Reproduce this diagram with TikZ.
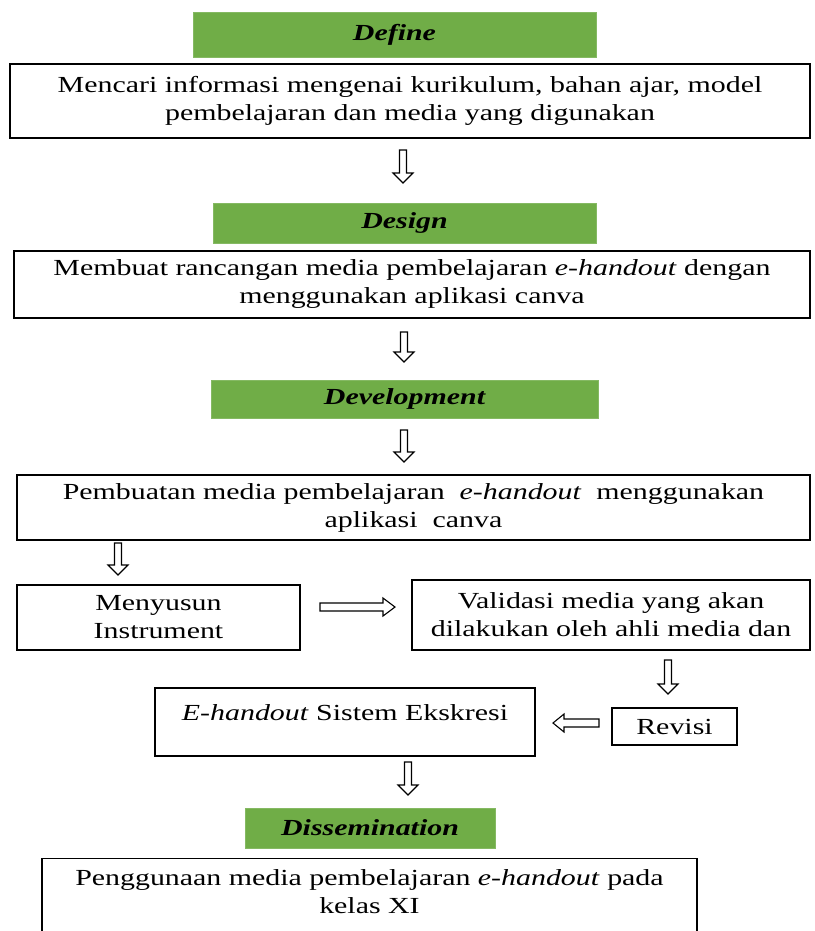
\documentclass[tikz,border=0pt]{standalone}
\usepackage{fontspec}
\setmainfont[FakeStretch=1.3]{Liberation Serif}
\definecolor{hdgreen}{HTML}{70AD47}
\begin{document}
\begin{tikzpicture}[x=1pt,y=-1pt,
  box/.style={draw=black, line width=1.3pt, fill=white, inner sep=0pt, align=center,
    font=\fontsize{23}{28}\selectfont},
  head/.style={fill=hdgreen, draw=hdgreen!85!white, line width=0.6pt, inner sep=0pt,
    font=\fontsize{23}{28}\selectfont\bfseries\itshape},
  txt/.style={inner sep=0pt, align=center, font=\fontsize{23}{28}\selectfont},
  blk/.style={draw=black, line width=1.1pt, fill=white, line join=miter}]
\clip (0,0) rectangle (814,931);
\fill[white] (0,0) rectangle (814,931);
\newcommand\dnarrow[3]{\draw[blk] ({#1-3.5},#2) -- ({#1+3.5},#2) -- ({#1+3.5},{#3-10}) -- ({#1+10},{#3-10}) -- (#1,#3) -- ({#1-10},{#3-10}) -- ({#1-3.5},{#3-10}) -- cycle;}
\newcommand\rtarrow[3]{\draw[blk] (#1,{#3-4}) -- ({#2-12},{#3-4}) -- ({#2-12},{#3-9}) -- (#2,#3) -- ({#2-12},{#3+9}) -- ({#2-12},{#3+4}) -- (#1,{#3+4}) -- cycle;}
\newcommand\ltarrow[3]{\draw[blk] (#2,{#3-4}) -- ({#1+11},{#3-4}) -- ({#1+11},{#3-9}) -- (#1,#3) -- ({#1+11},{#3+9}) -- ({#1+11},{#3+4}) -- (#2,{#3+4}) -- cycle;}

\node[head, minimum width=403, minimum height=45] (define) at (394.5,34.5) {Define};
\node[box, minimum width=800, minimum height=74] (b1) at (410,101)
  {Mencari informasi mengenai kurikulum, bahan ajar, model\\pembelajaran dan media yang digunakan};
\dnarrow{403}{150}{183}

\node[head, minimum width=383, minimum height=40] (design) at (404.5,223) {Design};
\node[box, minimum width=796, minimum height=67] (b2) at (412,284.5)
  {Membuat rancangan media pembelajaran \textit{e-handout} dengan\\menggunakan aplikasi canva};
\dnarrow{404}{332}{362}

\node[head, minimum width=387, minimum height=38] (devel) at (404.5,399) {Development};
\dnarrow{404}{430}{462}
\node[box, minimum width=793, minimum height=65] (b3) at (413.5,507.5)
  {Pembuatan media pembelajaran\ \ \textit{e-handout}\ \ menggunakan\\aplikasi\ \ canva};
\dnarrow{118}{543}{575}

\node[box, minimum width=283, minimum height=65] (b4) at (158.5,617.5) {Menyusun\\Instrument};
\rtarrow{320}{395}{607}
\node[box, minimum width=398, minimum height=70] (b5) at (611,615)
  {Validasi media yang akan\\dilakukan oleh ahli media dan};
\dnarrow{668}{660}{694}

\node[box, minimum width=380, minimum height=68] (b6) at (345,722) {};
\node[txt] (t6) at (345,713) {\textit{E-handout} Sistem Ekskresi};
\ltarrow{553}{599}{723}
\node[box, minimum width=125, minimum height=37] (rev) at (674.5,726.5) {Revisi};
\dnarrow{408}{762}{795}

\node[head, minimum width=250, minimum height=40] (dissem) at (370,828) {Dissemination};
\node[box, minimum width=655, minimum height=100, anchor=north] (b7) at (369.5,858) {};
\node[txt, anchor=north] (t7) at ([yshift=-11.5pt]b7.north)
  {Penggunaan media pembelajaran \textit{e-handout} pada\\kelas XI};
\end{tikzpicture}
\end{document}
